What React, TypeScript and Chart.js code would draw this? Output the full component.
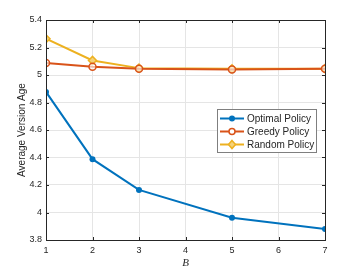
import React, { useEffect, useRef } from "react";
import { Chart, registerables } from "chart.js";

Chart.register(...registerables);

const bValues = [1, 2, 3, 5, 7];
const optimalPolicy = [4.877, 4.388, 4.164, 3.962, 3.88];
const greedyPolicy = [5.088, 5.06, 5.045, 5.04, 5.046];
const randomPolicy = [5.264, 5.106, 5.05, 5.045, 5.046];
const seriesNames = ["Optimal Policy", "Greedy Policy", "Random Policy"];
const seriesColors = ["#0072BD", "#D95319", "#EDB120"];
const yTicks = [3.8, 4, 4.2, 4.4, 4.6, 4.8, 5, 5.2, 5.4];
const xTicks = [1, 2, 3, 4, 5, 6, 7];

const AXIS = "#262626";
const FONT = "'Liberation Sans', Arial, sans-serif";

const boxPlugin = {
  id: "matlabBox",
  afterDraw(chart: any) {
    const { ctx, chartArea: a, scales } = chart;
    ctx.save();
    ctx.strokeStyle = AXIS;
    ctx.lineWidth = 1;
    ctx.strokeRect(Math.round(a.left) + 0.5, Math.round(a.top) + 0.5, Math.round(a.right - a.left), Math.round(a.bottom - a.top));
    const tl = 3;
    ctx.beginPath();
    for (const v of xTicks) {
      const x = Math.round(scales.x.getPixelForValue(v)) + 0.5;
      ctx.moveTo(x, a.bottom); ctx.lineTo(x, a.bottom - tl);
      ctx.moveTo(x, a.top); ctx.lineTo(x, a.top + tl);
    }
    for (const v of yTicks) {
      const y = Math.round(scales.y.getPixelForValue(v)) + 0.5;
      ctx.moveTo(a.left, y); ctx.lineTo(a.left + tl, y);
      ctx.moveTo(a.right, y); ctx.lineTo(a.right - tl, y);
    }
    ctx.stroke();

    // legend
    const lx = 217, ly = 109, lw = 99, lh = 43;
    ctx.fillStyle = "#ffffff";
    ctx.fillRect(lx, ly, lw, lh);
    ctx.strokeStyle = "#7f7f7f";
    ctx.lineWidth = 1;
    ctx.strokeRect(lx + 0.5, ly + 0.5, lw, lh);
    const styles = ["circle", "circleOpen", "diamond"];
    seriesNames.forEach((name, i) => {
      const y = ly + 9.5 + i * 13;
      ctx.strokeStyle = seriesColors[i];
      ctx.lineWidth = 2;
      ctx.beginPath();
      ctx.moveTo(lx + 3, y); ctx.lineTo(lx + 27, y);
      ctx.stroke();
      const mx = lx + 15;
      ctx.beginPath();
      if (styles[i] === "diamond") {
        ctx.moveTo(mx, y - 4); ctx.lineTo(mx + 3.5, y); ctx.lineTo(mx, y + 4); ctx.lineTo(mx - 3.5, y); ctx.closePath();
        ctx.fillStyle = "#F5D27A";
        ctx.fill();
        ctx.lineWidth = 1.5;
        ctx.stroke();
      } else if (styles[i] === "circleOpen") {
        ctx.arc(mx, y, 3, 0, Math.PI * 2);
        ctx.fillStyle = "#ffffff";
        ctx.fill();
        ctx.lineWidth = 1.5;
        ctx.stroke();
      } else {
        ctx.arc(mx, y, 3, 0, Math.PI * 2);
        ctx.fillStyle = seriesColors[i];
        ctx.fill();
      }
      ctx.fillStyle = AXIS;
      ctx.font = `10px ${FONT}`;
      ctx.textBaseline = "middle";
      ctx.textAlign = "left";
      ctx.fillText(name, lx + 30, y + 0.5);
    });
    ctx.restore();
  },
};

export default function App() {
  const ref = useRef<HTMLCanvasElement>(null);
  useEffect(() => {
    if (!ref.current) return;
    const mk = (data: number[]) => bValues.map((b, i) => ({ x: b, y: data[i] }));
    const chart = new Chart(ref.current, {
      type: "line",
      data: {
        datasets: [
          {
            label: seriesNames[0],
            data: mk(optimalPolicy),
            borderColor: seriesColors[0],
            backgroundColor: seriesColors[0],
            borderWidth: 2,
            pointRadius: 3,
            pointStyle: "circle",
            pointBorderWidth: 0,
            tension: 0,
          },
          {
            label: seriesNames[1],
            data: mk(greedyPolicy),
            borderColor: seriesColors[1],
            backgroundColor: "rgba(255,255,255,0.6)",
            borderWidth: 2,
            pointRadius: 3.5,
            pointBorderWidth: 1.5,
            pointStyle: "circle",
            tension: 0,
          },
          {
            label: seriesNames[2],
            data: mk(randomPolicy),
            borderColor: seriesColors[2],
            backgroundColor: "#F5D27A",
            borderWidth: 2,
            pointRadius: 4,
            pointBorderWidth: 1.5,
            pointStyle: "rectRot",
            tension: 0,
          },
        ],
      },
      options: {
        responsive: false,
        animation: false,
        layout: { padding: { left: 0, right: 35, top: 20, bottom: 0 } },
        plugins: { legend: { display: false }, tooltip: { enabled: false } },
        scales: {
          x: {
            type: "linear",
            min: 1,
            max: 7,
            afterBuildTicks: (s: any) => { s.ticks = xTicks.map((v) => ({ value: v })); },
            afterFit: (s: any) => { s.height = 30; },
            grid: { color: "#e5e5e5", drawTicks: false },
            border: { display: false },
            ticks: { color: AXIS, font: { family: FONT, size: 9 }, padding: 5, maxRotation: 0 },
            title: { display: true, text: "B", color: AXIS, font: { family: "'Liberation Serif', serif", size: 11, style: "italic" }, padding: { top: 0, bottom: 0 } },
          },
          y: {
            min: 3.8,
            max: 5.4,
            afterBuildTicks: (s: any) => { s.ticks = yTicks.map((v) => ({ value: v })); },
            afterFit: (s: any) => { s.width = 46; },
            grid: { color: "#e5e5e5", drawTicks: false },
            border: { display: false },
            ticks: {
              color: AXIS,
              font: { family: FONT, size: 9 },
              padding: 4,
              callback: (v: any) => String(Number(Number(v).toFixed(1))),
            },
            title: { display: true, text: "Average Version Age", color: AXIS, font: { family: FONT, size: 10 }, padding: { top: 16, bottom: 0 } },
          },
        },
      },
      plugins: [boxPlugin],
    });
    return () => chart.destroy();
  }, []);
  return (
    <div style={{ position: "absolute", left: 0, top: 0, width: 360, height: 270, background: "#fff" }}>
      <canvas ref={ref} width={360} height={270} style={{ width: 360, height: 270, display: "block" }} />
    </div>
  );
}
